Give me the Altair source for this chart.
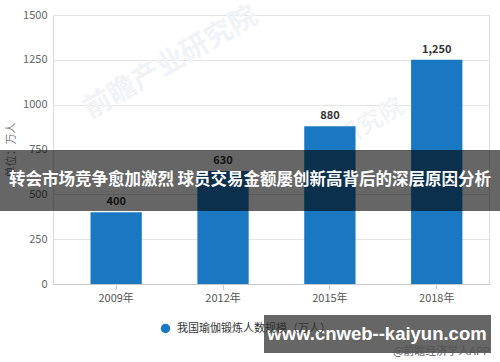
import altair as alt
import pandas as pd

years = ["2009年", "2012年", "2015年", "2018年"]
values = [400, 630, 880, 1250]
series_name = "我国瑜伽锻炼人数规模（万人）"
y_ticks = [0, 250, 500, 750, 1000, 1250, 1500]
y_title = "单位：万人"
banner_title = "转会市场竞争愈加激烈 球员交易金额屡创新高背后的深层原因分析"
banner_url = "www.cnweb--kaiyun.com"
source_note = "@前瞻经济学人APP"
watermark = "前瞻产业研究院"

FONT = "Noto Sans CJK SC"
BLUE = "#1a78c2"

df = pd.DataFrame({"year": years, "value": values, "series": [series_name] * len(years)})
one = pd.DataFrame({"k": [0]})

x_enc = alt.X(
    "year:N",
    sort=years,
    title=None,
    scale=alt.Scale(paddingInner=0.52, paddingOuter=0.3, align=0.585),
    axis=alt.Axis(labelAngle=0, labelFontSize=11, labelColor="#555555", labelFont=FONT,
                  domainColor="#c8c8c8", tickColor="#c8c8c8", tickSize=5, labelPadding=3,
                  grid=False),
)
y_enc = alt.Y(
    "value:Q",
    scale=alt.Scale(domain=[0, 1500], nice=False),
    axis=alt.Axis(values=y_ticks, format="d", title=y_title, titleFontSize=11,
                  titleColor="#777777", titleFontWeight="normal", titleFont=FONT,
                  titlePadding=6,
                  labelFontSize=11, labelColor="#666666", labelFont=FONT, labelPadding=6,
                  domain=False, ticks=False, gridColor="#e4e4e4"),
)

wm1 = alt.Chart(one).mark_text(text=watermark, angle=330, fontSize=28, fontWeight="bold",
                               font=FONT, color="#f0f3f7").encode(
    x=alt.value(118), y=alt.value(48))
wm2 = alt.Chart(one).mark_text(text="研究院", angle=330, fontSize=24, fontWeight="bold",
                               font=FONT, color="#f2f5f8").encode(
    x=alt.value(318), y=alt.value(108))

bars = alt.Chart(df).mark_bar(color=BLUE).encode(
    x=x_enc,
    y=y_enc,
    color=alt.Color("series:N", scale=alt.Scale(range=[BLUE]),
                    legend=alt.Legend(title=None, orient="none", legendX=107, legendY=308,
                                      symbolType="circle", symbolSize=90, labelFontSize=11,
                                      labelColor="#333333", labelFont=FONT, labelLimit=300,
                                      labelOffset=6)),
)

labels = alt.Chart(df).mark_text(baseline="bottom", dy=-5, fontSize=11, fontWeight="bold",
                                 color="#333333", font=FONT).encode(
    x=alt.X("year:N", sort=years),
    y="value:Q",
    text=alt.Text("value:Q", format=","),
)

band1 = alt.Chart(one).mark_rect(color="black", opacity=0.6).encode(
    x=alt.value(-53), x2=alt.value(447), y=alt.value(135), y2=alt.value(196))
band1_text = alt.Chart(one).mark_text(text=banner_title, fontSize=16.5, fontWeight="bold",
                                      font=FONT, color="white").encode(
    x=alt.value(197), y=alt.value(165))

band2 = alt.Chart(one).mark_rect(color="black", opacity=0.6).encode(
    x=alt.value(211), x2=alt.value(438), y=alt.value(300), y2=alt.value(338))
band2_text = alt.Chart(one).mark_text(text=banner_url, fontSize=18.5, fontWeight="bold",
                                      font="Liberation Sans", color="white").encode(
    x=alt.value(324), y=alt.value(319))
note = alt.Chart(one).mark_text(text=source_note, fontSize=11, align="right",
                                font=FONT, color="#555555").encode(
    x=alt.value(437), y=alt.value(337))

chart = alt.layer(wm1, wm2, bars, labels, band1, band1_text, band2, band2_text, note).properties(
    width=436, height=269,
    autosize=alt.AutoSizeParams(type="none"),
    padding={"left": 53, "top": 15, "right": 11, "bottom": 78},
).configure_view(stroke=None).configure(background="white")

chart.save("out.html", embed_options={"renderer": "svg", "actions": False})
